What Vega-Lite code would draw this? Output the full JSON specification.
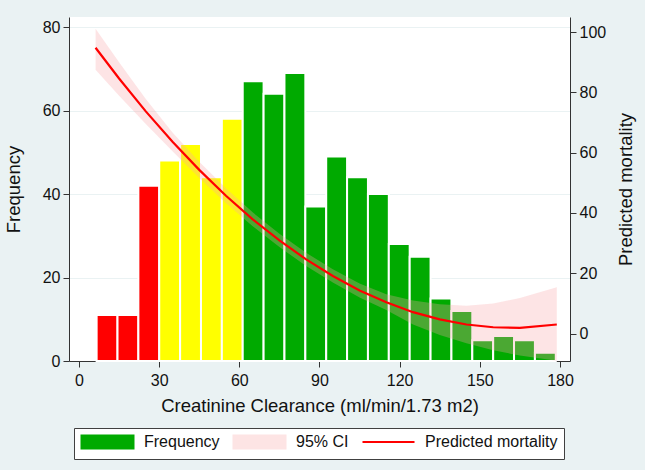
{
  "$schema": "https://vega.github.io/schema/vega-lite/v6.json",
  "width": 501,
  "height": 344,
  "autosize": "none",
  "padding": {"left": 69, "top": 17, "right": 75, "bottom": 109},
  "background": "#eaf2f3",
  "config": {
    "view": {"fill": "white", "stroke": null},
    "font": "Liberation Sans",
    "axis": {
      "domainColor": "#333333",
      "tickColor": "#333333",
      "tickSize": 6,
      "labelFontSize": 16,
      "labelColor": "#111111",
      "titleFontSize": 18.5,
      "titleFontWeight": "normal",
      "titleColor": "#111111",
      "grid": false
    }
  },
  "datasets": {
    "hist": [
      {"x0": 6.60, "x1": 14.41, "freq": 11, "grp": "low"},
      {"x0": 14.41, "x1": 22.22, "freq": 11, "grp": "low"},
      {"x0": 22.22, "x1": 30.03, "freq": 42, "grp": "low"},
      {"x0": 30.03, "x1": 37.84, "freq": 48, "grp": "mid"},
      {"x0": 37.84, "x1": 45.65, "freq": 52, "grp": "mid"},
      {"x0": 45.65, "x1": 53.46, "freq": 44, "grp": "mid"},
      {"x0": 53.46, "x1": 61.27, "freq": 58, "grp": "mid"},
      {"x0": 61.27, "x1": 69.08, "freq": 67, "grp": "high"},
      {"x0": 69.08, "x1": 76.89, "freq": 64, "grp": "high"},
      {"x0": 76.89, "x1": 84.70, "freq": 69, "grp": "high"},
      {"x0": 84.70, "x1": 92.51, "freq": 37, "grp": "high"},
      {"x0": 92.51, "x1": 100.32, "freq": 49, "grp": "high"},
      {"x0": 100.32, "x1": 108.13, "freq": 44, "grp": "high"},
      {"x0": 108.13, "x1": 115.94, "freq": 40, "grp": "high"},
      {"x0": 115.94, "x1": 123.75, "freq": 28, "grp": "high"},
      {"x0": 123.75, "x1": 131.56, "freq": 25, "grp": "high"},
      {"x0": 131.56, "x1": 139.37, "freq": 15, "grp": "high"},
      {"x0": 139.37, "x1": 147.18, "freq": 12, "grp": "high"},
      {"x0": 147.18, "x1": 154.99, "freq": 5, "grp": "high"},
      {"x0": 154.99, "x1": 162.80, "freq": 6, "grp": "high"},
      {"x0": 162.80, "x1": 170.61, "freq": 5, "grp": "high"},
      {"x0": 170.61, "x1": 178.42, "freq": 2, "grp": "high"}
    ],
    "fit": [
      {"crcl": 6.2, "pred": 94.8, "lo": 87.5, "hi": 101.1},
      {"crcl": 15, "pred": 84.6, "lo": 78.9, "hi": 90.0},
      {"crcl": 25, "pred": 73.7, "lo": 69.5, "hi": 77.8},
      {"crcl": 35, "pred": 63.6, "lo": 60.5, "hi": 66.7},
      {"crcl": 45, "pred": 54.3, "lo": 51.6, "hi": 57.0},
      {"crcl": 55, "pred": 45.7, "lo": 43.2, "hi": 48.2},
      {"crcl": 65, "pred": 37.9, "lo": 35.6, "hi": 40.2},
      {"crcl": 75, "pred": 30.9, "lo": 28.7, "hi": 33.1},
      {"crcl": 85, "pred": 24.6, "lo": 22.4, "hi": 26.8},
      {"crcl": 95, "pred": 19.1, "lo": 16.9, "hi": 21.3},
      {"crcl": 105, "pred": 14.3, "lo": 12.0, "hi": 16.6},
      {"crcl": 115, "pred": 10.4, "lo": 7.8, "hi": 13.0},
      {"crcl": 125, "pred": 7.1, "lo": 3.0, "hi": 11.0},
      {"crcl": 135, "pred": 4.7, "lo": -0.5, "hi": 9.7},
      {"crcl": 145, "pred": 3.0, "lo": -3.2, "hi": 9.2},
      {"crcl": 155, "pred": 2.1, "lo": -5.5, "hi": 10.0},
      {"crcl": 165, "pred": 1.9, "lo": -7.3, "hi": 11.8},
      {"crcl": 178.8, "pred": 3.0, "lo": -9.0, "hi": 15.4}
    ]
  },
  "resolve": {"scale": {"y": "independent", "color": "independent"}},
  "layer": [
    {
      "data": {"name": "hist"},
      "mark": {"type": "rect", "stroke": "white", "strokeWidth": 2},
      "encoding": {
        "x": {
          "field": "x0",
          "type": "quantitative",
          "scale": {"domain": [-3.74, 183.74], "nice": false, "zero": false},
          "axis": {
            "title": "Creatinine Clearance (ml/min/1.73 m2)",
            "values": [0, 30, 60, 90, 120, 150, 180],
            "labelPadding": 5,
            "titlePadding": 8,
            "labelFlush": false
          }
        },
        "x2": {"field": "x1"},
        "y": {
          "field": "freq",
          "type": "quantitative",
          "scale": {"domain": [0, 82.4], "nice": false},
          "axis": {
            "title": "Frequency",
            "values": [0, 20, 40, 60, 80],
            "grid": true,
            "gridColor": "#eaf2f3",
            "labelPadding": 3,
            "titlePadding": 19
          }
        },
        "y2": {"datum": 0},
        "color": {
          "field": "grp",
          "type": "nominal",
          "scale": {"domain": ["low", "mid", "high"], "range": ["#ff0000", "#ffff00", "#00aa00"]},
          "legend": null
        }
      }
    },
    {
      "data": {"name": "fit"},
      "layer": [
        {
          "mark": {"type": "area", "color": "#faa5aa", "opacity": 0.3},
          "encoding": {
            "x": {"field": "crcl", "type": "quantitative"},
            "y": {
              "field": "lo",
              "type": "quantitative",
              "scale": {"domain": [-9.1, 105], "nice": false, "zero": false},
              "axis": {
                "orient": "right",
                "title": "Predicted mortality",
                "titleAngle": 270,
                "values": [0, 20, 40, 60, 80, 100],
                "labelPadding": 3,
                "titlePadding": 30
              }
            },
            "y2": {"field": "hi"}
          }
        },
        {
          "mark": {"type": "line", "strokeWidth": 2.2},
          "encoding": {
            "x": {"field": "crcl", "type": "quantitative"},
            "y": {"field": "pred", "type": "quantitative"},
            "color": {
              "datum": "Predicted mortality",
              "type": "nominal",
              "scale": {
                "domain": ["Frequency", "95% CI", "Predicted mortality"],
                "range": ["#00aa00", "#fde4e4", "#ff0000"]
              },
              "legend": {
                "title": null,
                "orient": "none",
                "legendX": 5,
                "legendY": 411,
                "direction": "horizontal",
                "gridAlign": "none",
                "columns": 3,
                "columnPadding": 9,
                "padding": 6,
                "strokeColor": "#404040",
                "fillColor": "white",
                "labelFontSize": 16,
                "labelColor": "#111111",
                "labelOffset": 48,
                "symbolSize": 169,
                "encode": {
                  "symbols": {
                    "update": {
                      "shape": {"signal": "datum.value === 'Predicted mortality' ? 'M-1,0H7' : 'M-1,-1H7V1H-1Z'"},
                      "fill": {"signal": "datum.value === 'Frequency' ? '#00aa00' : datum.value === '95% CI' ? '#fde4e4' : 'transparent'"},
                      "stroke": {"signal": "datum.value === 'Predicted mortality' ? '#ff0000' : 'transparent'"},
                      "strokeWidth": {"value": 2},
                      "opacity": {"value": 1}
                    }
                  }
                }
              }
            }
          }
        }
      ]
    }
  ]
}
